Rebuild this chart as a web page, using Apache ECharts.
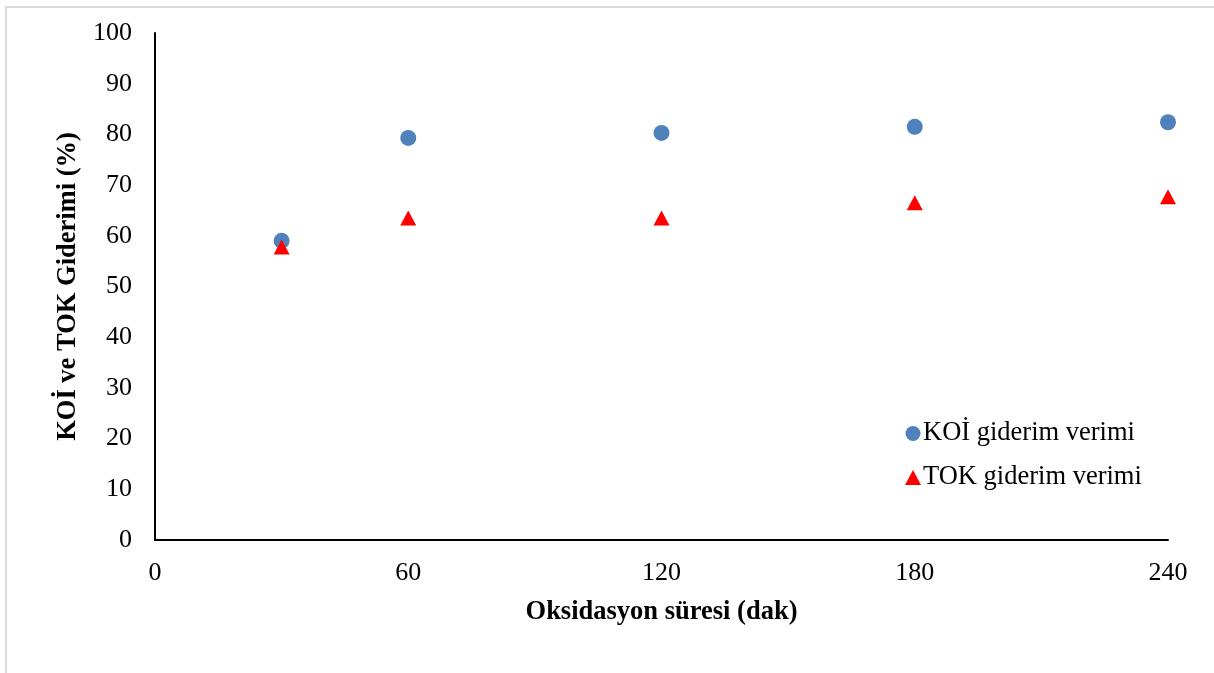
<!DOCTYPE html>
<html>
<head>
<meta charset="utf-8">
<script src="https://cdn.jsdelivr.net/npm/echarts@6/dist/echarts.min.js"></script>
<style>
  html, body { margin: 0; padding: 0; background: #ffffff; }
  #chart { width: 1214px; height: 673px; }
</style>
</head>
<body>
<div id="chart"></div>
<script>
// Oxidation time (min) and removal efficiencies (%)
const times = [30, 60, 120, 180, 240];
const koiValues = [59.0, 79.3, 80.3, 81.5, 82.4];
const tokValues = [57.8, 63.5, 63.5, 66.5, 67.7];
const xTicks = [0, 60, 120, 180, 240];
const yTicks = [0, 10, 20, 30, 40, 50, 60, 70, 80, 90, 100];

const seriesNames = ['KOİ giderim verimi', 'TOK giderim verimi'];
const font = '"Liberation Serif", "Times New Roman", serif';

const chart = echarts.init(document.getElementById('chart'), null, { renderer: 'canvas' });

chart.setOption({
  backgroundColor: '#ffffff',
  animation: false,
  textStyle: { fontFamily: font },
  graphic: [{
    type: 'rect',
    silent: true,
    shape: { x: 6, y: 7, width: 1300, height: 800 },
    style: { fill: 'none', stroke: '#d9d9d9', lineWidth: 2 }
  }],
  grid: { left: 155, right: 46, top: 33, bottom: 133 },
  legend: {
    orient: 'vertical',
    left: 900,
    top: 415,
    itemGap: 17,
    itemWidth: 16,
    itemHeight: 15,
    textStyle: { fontFamily: font, fontSize: 26.5, color: '#000000', padding: [0, 0, 0, -3] },
    data: [
      { name: seriesNames[0], icon: 'circle' },
      { name: seriesNames[1], icon: 'triangle' }
    ]
  },
  xAxis: {
    type: 'value',
    min: xTicks[0],
    max: xTicks[xTicks.length - 1],
    interval: 60,
    name: 'Oksidasyon süresi (dak)',
    nameLocation: 'middle',
    nameGap: 59,
    nameTextStyle: { fontFamily: font, fontSize: 26.5, fontWeight: 'bold', color: '#000000' },
    axisLine: { show: true, onZero: false, lineStyle: { color: '#000000', width: 2 } },
    axisTick: { show: false },
    splitLine: { show: false },
    axisLabel: { fontFamily: font, fontSize: 26, color: '#000000', margin: 20 }
  },
  yAxis: {
    type: 'value',
    min: yTicks[0],
    max: yTicks[yTicks.length - 1],
    interval: 10,
    name: 'KOİ ve TOK Giderimi (%)',
    nameLocation: 'middle',
    nameGap: 68,
    nameTextStyle: { fontFamily: font, fontSize: 26.5, fontWeight: 'bold', color: '#000000' },
    axisLine: { show: true, lineStyle: { color: '#000000', width: 2 } },
    axisTick: { show: false },
    splitLine: { show: false },
    axisLabel: { fontFamily: font, fontSize: 26, color: '#000000', margin: 23 }
  },
  series: [
    {
      name: seriesNames[0],
      type: 'scatter',
      symbol: 'circle',
      symbolSize: 16,
      itemStyle: { color: '#4f81bd', opacity: 1 },
      z: 2,
      data: times.map((t, i) => [t, koiValues[i]])
    },
    {
      name: seriesNames[1],
      type: 'scatter',
      symbol: 'triangle',
      symbolSize: [16, 15],
      itemStyle: { color: '#ff0000', opacity: 1 },
      z: 3,
      data: times.map((t, i) => [t, tokValues[i]])
    }
  ]
});
</script>
</body>
</html>
